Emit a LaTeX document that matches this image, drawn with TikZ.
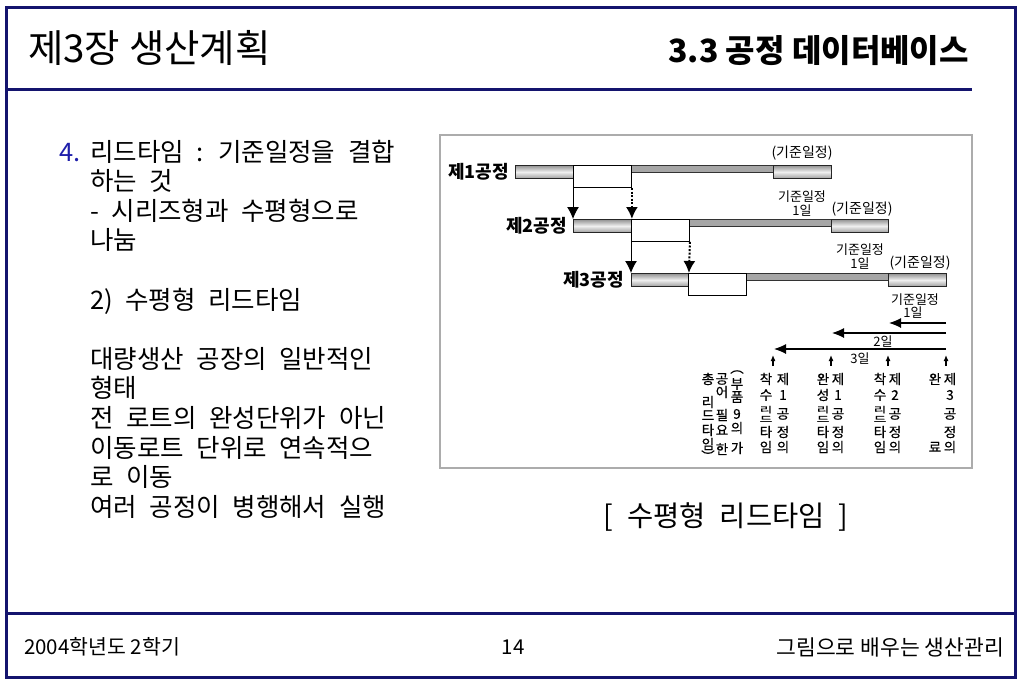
\documentclass[tikz,border=0pt]{standalone}
\usepackage{fontspec}
\usepackage{graphicx}
\setmainfont{Noto Sans CJK KR}
\newfontfamily\krw[WordSpace=2.2]{Noto Sans CJK KR}
\newfontfamily\krm[FakeBold=0.5]{Noto Sans CJK KR}
\usetikzlibrary{arrows.meta}
\definecolor{navy}{RGB}{20,20,110}
\definecolor{numblue}{RGB}{30,30,170}
\pgfdeclarelayer{bg}
\pgfsetlayers{bg,main}
\newcommand{\squish}[1]{\scalebox{1}[0.62]{#1}}
\begin{document}
\begin{tikzpicture}[x=1pt,y=-1pt,
  frameline/.style={draw=navy, line width=3pt},
  gbar/.style={draw=black!85, line width=0.9pt, top color=gray!85, bottom color=gray!75, middle color=gray!12, inner sep=0pt, anchor=north west, minimum height=13pt},
  tbar/.style={draw=black!80, line width=0.9pt, fill=gray!70, inner sep=0pt, anchor=north west, minimum height=7pt},
  wbox/.style={draw=black, line width=0.9pt, fill=white, inner sep=0pt, anchor=north west, minimum height=22pt, minimum width=58pt},
  dotl/.style={line width=2pt, dash pattern=on 2pt off 1.6pt},
  bigtip/.style={-{Latex[length=12pt,width=12pt]}},
  htip/.style={line width=1.1pt, -{Latex[length=12pt,width=10pt]}},
  uptip/.style={-{Latex[length=9pt,width=8pt]}},
  smalltip/.style={line width=1.2pt, -{Latex[length=6pt,width=5pt]}},
  body/.style={anchor=base west, inner sep=0pt, font=\krw\fontsize{25.5}{29}\selectfont},
  proc/.style={anchor=east, inner sep=0pt, font=\bfseries\fontsize{18}{20}\selectfont},
  lab/.style={inner sep=0pt, font=\fontsize{13}{14}\selectfont},
  plab/.style={inner sep=0pt, font=\fontsize{14}{15}\selectfont},
  vt/.style={inner sep=0pt, font=\krm\fontsize{13.5}{14}\selectfont},
  vp/.style={inner sep=0pt, align=center, font=\krm\fontsize{13.5}{9.5}\selectfont}
]
\useasboundingbox (0,0) rectangle (1023,682);
\fill[white] (0,0) rectangle (1023,682);

% page frame
\draw[frameline] (6.5,7.5) rectangle (1015.5,677);
\draw[frameline] (6.5,90) -- (972,90);
\draw[frameline] (6.5,613) -- (1015.5,613);

% header and footer
\node[anchor=west, inner sep=0pt, font=\fontsize{38.5}{44}\selectfont] (title) at (28,48) {제3장 생산계획};
\node[anchor=east, inner sep=0pt, font=\bfseries\fontsize{32}{36}\selectfont] (sub) at (969,51) {3.3 공정 데이터베이스};
\node[anchor=west, inner sep=0pt, font=\fontsize{20.5}{22}\selectfont] (foot1) at (24,647) {2004학년도 2학기};
\node[inner sep=0pt, font=\fontsize{20.5}{22}\selectfont] (foot2) at (513,647) {14};
\node[anchor=east, inner sep=0pt, font=\fontsize{21.5}{23}\selectfont] (foot3) at (1004,647) {그림으로 배우는 생산관리};

% body text
\node[body, text=numblue] (num) at (59,161) {4.};
\node[body] (l1) at (90,161) {리드타임 : 기준일정을 결합};
\node[body] (l2) at (90,190.6) {하는 것};
\node[body] (l3) at (90,220.2) {- 시리즈형과 수평형으로};
\node[body] (l4) at (90,249.8) {나눔};
\node[body] (l5) at (90,309) {2) 수평형 리드타임};
\node[body] (l6) at (90,368.2) {대량생산 공장의 일반적인};
\node[body] (l7) at (90,397.8) {형태};
\node[body] (l8) at (90,427.4) {전 로트의 완성단위가 아닌};
\node[body] (l9) at (90,457) {이동로트 단위로 연속적으};
\node[body] (l10) at (90,486.6) {로 이동};
\node[body] (l11) at (90,516.2) {여러 공정이 병행해서 실행};

\node[inner sep=0pt, font=\krw\fontsize{28.5}{32}\selectfont] (cap) at (726,517) {[ 수평형 리드타임 ]};

% diagram frame
\draw[draw=gray!65, line width=1.5pt] (440,135) rectangle (972,468);

% row 1
\node[gbar, minimum width=58pt] (g1a) at (515,165) {};
\node[tbar, minimum width=142pt] (t1) at (631,165) {};
\node[wbox] (w1) at (573,165) {};
\node[gbar, minimum width=58pt] (g1b) at (773,165) {};
% row 2
\node[gbar, minimum width=58pt] (g2a) at (573,219) {};
\node[tbar, minimum width=143pt] (t2) at (688,219) {};
\node[wbox] (w2) at (631,219) {};
\node[gbar, minimum width=57pt] (g2b) at (831,219) {};
% row 3
\node[gbar, minimum width=57pt] (g3a) at (631,273) {};
\node[tbar, minimum width=142pt] (t3) at (746,273) {};
\node[wbox] (w3) at (688,273) {};
\node[gbar, minimum width=58pt] (g3b) at (888,273) {};

\node[proc] (p1) at (509,172) {제1공정};
\node[proc] (p2) at (567,226) {제2공정};
\node[proc] (p3) at (624,280) {제3공정};

% transfer arrows
\draw[line width=1pt, bigtip] (w1.south west) -- (g2a.north west);
\draw[dotl, bigtip] (w1.south east) -- (g2a.north east);
\draw[line width=1pt, bigtip] (w2.south west) -- (g3a.north west);
\draw[dotl, bigtip] (w2.south east) -- (g3a.north east);

% dotted reference lines
\coordinate (e1) at (773,352);
\coordinate (e2) at (831,343);
\coordinate (e3) at (888,325);
\coordinate (e4) at (946,352);
\begin{pgfonlayer}{bg}
\draw[dotl, uptip] (e1) -- (g1b.south west);
\draw[dotl, uptip] (e2) -- (g1b.south east);
\draw[dotl, uptip] (e3) -- (g2b.south east);
\draw[dotl, uptip] (e4) -- (g3b.south east);
\end{pgfonlayer}

% horizontal lead-time arrows
\coordinate (a1s) at (946,323); \coordinate (a1e) at (889,323);
\coordinate (a2s) at (946,333); \coordinate (a2e) at (832,333);
\coordinate (a3s) at (946,349); \coordinate (a3e) at (774,349);
\draw[htip] (a1s) -- (a1e);
\draw[htip] (a2s) -- (a2e);
\draw[htip] (a3s) -- (a3e);

% labels
\node[plab] (k1) at (802,153) {(기준일정)};
\node[plab] (k2) at (862,209) {(기준일정)};
\node[plab] (k3) at (920,263) {(기준일정)};
\node[lab] (s1) at (802,197) {기준일정};
\node[lab] (d1) at (802,211) {1일};
\node[lab] (s2) at (860,250) {기준일정};
\node[lab] (d2) at (860,264) {1일};
\node[lab] (s3) at (915,300) {기준일정};
\node[lab] (d3) at (913,313) {1일};
\node[lab] (d4) at (883,342) {2일};
\node[lab] (d5) at (860,359) {3일};

% small markers
\foreach \x [count=\i] in {773,831,888,946}{
  \coordinate (mb\i) at (\x,366);
  \coordinate (mt\i) at (\x,355);
  \draw[smalltip] (mb\i) -- (mt\i);
}

% vertical texts
\foreach \c/\y [count=\i] in {총/379,리/402,드/415.5,타/430,임/444,︶/456}
  \node[vt] (va\i) at (708,\y) {\c};
\foreach \c/\y [count=\i] in {공/379,어/392,필/415,요/430,한/449}
  \node[vt] (vb\i) at (722,\y) {\c};
\foreach \c/\y [count=\i] in {︵/372,부/384,품/397,9/414,의/428,가/448}
  \node[vt] (vc\i) at (737,\y) {\c};
\foreach \gx/\n [count=\j] in {766/착,823/완,880/착}{
  \node[vt] (top\j) at (\gx,379) {\n};
}
\node[vt] (su1) at (766,395) {수};
\node[vt] (su2) at (823,395) {성};
\node[vt] (su3) at (880,395) {수};
\foreach \gx [count=\j] in {766,823,880}{
  \node[vp] (rd\j) at (\gx,414) {\squish{리}\\\squish{드}};
  \node[vt] (ta\j) at (\gx,432) {타};
  \node[vt] (im\j) at (\gx,447) {임};
}
\foreach \gx/\n [count=\j] in {783/1,838/1,895/2,950/3}{
  \node[vt] (je\j) at (\gx,379) {제};
  \node[vt] (nu\j) at (\gx,395) {\n};
  \node[vt] (go\j) at (\gx,414) {공};
  \node[vt] (jg\j) at (\gx,432) {정};
  \node[vt] (ui\j) at (\gx,447) {의};
}
\node[vt] (wan4) at (935,379) {완};
\node[vt] (ryo4) at (935,447) {료};
\end{tikzpicture}
\end{document}
